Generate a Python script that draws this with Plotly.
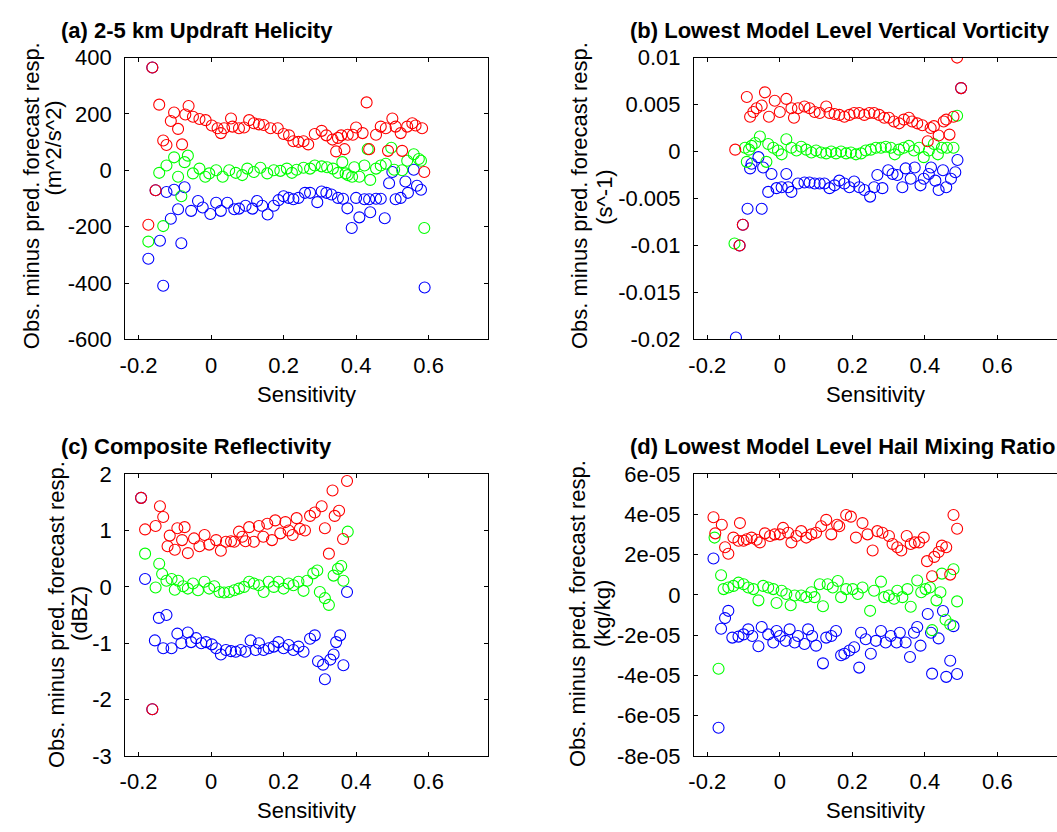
import plotly.graph_objects as go

W, H = 1057, 832
FONT = "Liberation Sans, Arial, Helvetica, sans-serif"

# ---------------- (a) 2-5 km updraft helicity (m^2/s^2) ----------------
uh_red_x = [-0.173, -0.162, -0.153, -0.143, -0.132, -0.123, -0.111, -0.102, -0.091, -0.080,
            -0.071, -0.062, -0.050, -0.032, -0.015, 0.002, 0.018, 0.027, 0.036, 0.055,
            0.059, 0.077, 0.091, 0.105, 0.118, 0.132, 0.145, 0.164, 0.184, 0.200,
            0.215, 0.227, 0.241, 0.255, 0.268, 0.286, 0.305, 0.318, 0.335, 0.345,
            0.350, 0.359, 0.368, 0.377, 0.391, 0.400, 0.418, 0.429, 0.436, 0.455,
            0.468, 0.482, 0.488, 0.500, 0.509, 0.523, 0.527, 0.541, 0.555, 0.564,
            0.582, 0.588]
uh_red_y = [-193, 365, -71, 233, 106, 90, 175, 205, 147, 92,
            198, 228, 190, 182, 178, 159, 149, 132, 149, 184,
            155, 149, 152, 178, 167, 163, 161, 149, 149, 129,
            124, 103, 101, 103, 92, 129, 140, 124, 109, 67,
            115, 124, 75, 126, 126, 152, 132, 241, 75, 126,
            155, 149, 69, 184, 155, 132, 69, 155, 167, 159,
            149, -6]

uh_green_x = [-0.173, -0.143, -0.132, -0.123, -0.102, -0.091, -0.082, -0.073, -0.064, -0.050,
              -0.032, -0.016, -0.005, 0.014, 0.032, 0.050, 0.068, 0.086, 0.100, 0.118,
              0.136, 0.155, 0.173, 0.191, 0.209, 0.223, 0.236, 0.255, 0.273, 0.286,
              0.305, 0.320, 0.336, 0.350, 0.362, 0.371, 0.377, 0.389, 0.395, 0.409,
              0.423, 0.432, 0.439, 0.455, 0.468, 0.482, 0.497, 0.505, 0.527, 0.541,
              0.559, 0.573, 0.579, 0.588]
uh_green_y = [-253, -9, -198, 17, 46, -23, -92, 29, 52, -11,
              6, -23, -11, 0, -23, 0, -9, -17, 6, -6,
              9, -11, 0, -2, 6, -9, 2, 9, 6, 17,
              14, 11, 6, -9, 29, -11, -17, -23, 11, -23,
              17, 75, -34, 6, 17, 23, 80, 2, 0, 34,
              57, 40, 34, -205]

uh_blue_x = [-0.173, -0.162, -0.153, -0.141, -0.132, -0.123, -0.111, -0.102, -0.091, -0.082,
             -0.073, -0.055, -0.036, -0.023, -0.002, 0.014, 0.027, 0.045, 0.064, 0.077,
             0.095, 0.114, 0.127, 0.141, 0.156, 0.173, 0.186, 0.200, 0.214, 0.227,
             0.241, 0.259, 0.273, 0.293, 0.305, 0.318, 0.332, 0.350, 0.364, 0.376,
             0.388, 0.400, 0.409, 0.423, 0.436, 0.439, 0.455, 0.468, 0.479, 0.491,
             0.500, 0.509, 0.523, 0.536, 0.543, 0.559, 0.568, 0.579, 0.589]
uh_blue_y = [-314, 365, -71, -250, -410, -77, -172, -69, -138, -259,
             -60, -144, -109, -132, -155, -115, -144, -115, -138, -136,
             -126, -136, -109, -126, -157, -126, -106, -92, -98, -103,
             -98, -80, -80, -113, -75, -80, -86, -98, -101, -135,
             -205, -98, -167, -103, -103, -149, -101, -101, -170, -46,
             -6, -103, -98, -40, -80, 2, -55, -69, -416]

# ---------------- (b) lowest model level vertical vorticity (s^-1) ----------------
vort_red_x = [-0.123, -0.111, -0.102, -0.091, -0.082, -0.073, -0.064, -0.050, -0.041, -0.030,
              -0.014, 0.000, 0.018, 0.032, 0.039, 0.050, 0.068, 0.082, 0.096, 0.110,
              0.128, 0.137, 0.151, 0.164, 0.178, 0.192, 0.205, 0.219, 0.233, 0.247,
              0.260, 0.274, 0.288, 0.301, 0.315, 0.329, 0.342, 0.356, 0.365, 0.379,
              0.393, 0.408, 0.416, 0.425, 0.438, 0.452, 0.459, 0.468, 0.479, 0.489, 0.500]
vort_red_y = [0.0002, -0.0100, -0.0078, 0.0058, 0.0037, 0.0042, 0.0046, 0.0049, 0.0063, 0.0037,
              0.0054, 0.0042, 0.0056, 0.0046, 0.0036, 0.0046, 0.0048, 0.0046, 0.0042, 0.0041,
              0.0048, 0.0041, 0.0040, 0.0039, 0.0037, 0.0039, 0.0041, 0.0041, 0.0039, 0.0041,
              0.0041, 0.0039, 0.0036, 0.0036, 0.0032, 0.0030, 0.0034, 0.0036, 0.0032, 0.0030,
              0.0028, 0.0011, 0.0025, 0.0027, 0.0017, 0.0032, 0.0034, 0.0018, 0.0037, 0.0100, 0.00675]

vort_green_x = [-0.125, -0.096, -0.091, -0.085, -0.078, -0.068, -0.055, -0.037, -0.032, -0.018,
                -0.005, 0.005, 0.018, 0.032, 0.046, 0.059, 0.073, 0.087, 0.100, 0.114,
                0.128, 0.142, 0.155, 0.169, 0.183, 0.196, 0.210, 0.224, 0.237, 0.251,
                0.265, 0.279, 0.292, 0.306, 0.317, 0.329, 0.342, 0.356, 0.370, 0.384,
                0.397, 0.411, 0.425, 0.436, 0.447, 0.461, 0.479, 0.489]
vort_green_y = [-0.0098, 0.0004, -0.0011, 0.0002, 0.0006, 0.0009, 0.0016, -0.0011, 0.0008, 0.0004,
                0.0001, -0.0003, 0.0013, 0.0004, 0.0001, 0.0005, 0.0002, -0.0001, 0.0001, -0.0001,
                -0.0002, 0.0000, -0.0002, 0.0000, -0.0002, -0.0001, -0.0003, -0.0002, 0.0001, 0.0002,
                0.0004, 0.0004, 0.0005, 0.0004, -0.0003, 0.0002, 0.0004, 0.0006, 0.0001, 0.0004,
                -0.0006, 0.0001, 0.0008, -0.0003, 0.0004, 0.0004, 0.0004, 0.0038]

vort_blue_x = [-0.121, -0.111, -0.102, -0.089, -0.082, -0.078, -0.059, -0.050, -0.046, -0.032,
               -0.023, -0.009, 0.005, 0.018, 0.023, 0.032, 0.050, 0.068, 0.082, 0.096,
               0.110, 0.123, 0.137, 0.151, 0.164, 0.178, 0.192, 0.205, 0.219, 0.233,
               0.249, 0.260, 0.269, 0.283, 0.299, 0.311, 0.324, 0.338, 0.347, 0.361,
               0.372, 0.388, 0.397, 0.411, 0.417, 0.429, 0.438, 0.450, 0.459, 0.472,
               0.484, 0.490, 0.500]
vort_blue_y = [-0.0198, -0.0100, -0.0078, -0.0061, -0.0018, -0.0013, -0.0006, -0.0061, -0.0017, -0.0043,
               -0.0024, -0.0039, -0.0038, -0.0024, -0.0038, -0.0043, -0.0034, -0.0033, -0.0033, -0.0034,
               -0.0034, -0.0034, -0.0039, -0.0036, -0.0031, -0.0034, -0.0038, -0.0032, -0.0038, -0.0041,
               -0.0048, -0.0038, -0.0025, -0.0039, -0.0020, -0.0024, -0.0025, -0.0038, -0.0018, -0.0029,
               -0.0017, -0.0036, -0.0029, -0.0024, -0.0017, -0.0031, -0.0041, -0.0020, -0.0038, -0.0029,
               -0.0022, -0.0009, 0.00675]

# ---------------- (c) composite reflectivity (dBZ) ----------------
refl_red_x = [-0.193, -0.182, -0.162, -0.153, -0.141, -0.132, -0.120, -0.114, -0.100, -0.093,
              -0.080, -0.073, -0.064, -0.047, -0.032, -0.018, -0.005, 0.014, 0.027, 0.041,
              0.055, 0.064, 0.077, 0.086, 0.095, 0.105, 0.118, 0.132, 0.144, 0.155,
              0.168, 0.177, 0.191, 0.205, 0.214, 0.225, 0.236, 0.245, 0.259, 0.273,
              0.286, 0.305, 0.314, 0.325, 0.335, 0.341, 0.353, 0.364, 0.375]
refl_red_y = [1.58, 1.02, -2.17, 1.08, 1.43, 1.24, 0.72, 0.91, 0.66, 1.04,
              0.83, 1.06, 0.60, 0.86, 0.72, 0.92, 0.75, 0.83, 0.64, 0.80,
              0.81, 0.80, 0.98, 0.89, 0.81, 1.06, 0.80, 1.08, 0.89, 1.12,
              0.83, 1.18, 0.95, 1.15, 1.00, 0.92, 1.22, 1.03, 1.00, 1.26,
              1.32, 1.43, 1.04, 0.59, 1.71, 1.26, 1.35, 0.85, 1.88]

refl_green_x = [-0.182, -0.153, -0.143, -0.135, -0.123, -0.109, -0.100, -0.091, -0.077, -0.064,
                -0.050, -0.036, -0.018, -0.005, 0.009, 0.023, 0.036, 0.050, 0.064, 0.077,
                0.091, 0.105, 0.118, 0.132, 0.145, 0.159, 0.173, 0.186, 0.200, 0.214,
                0.227, 0.241, 0.255, 0.265, 0.282, 0.293, 0.300, 0.314, 0.325, 0.338,
                0.350, 0.359, 0.365, 0.377]
refl_green_y = [0.59, -0.01, 0.41, 0.23, 0.11, 0.14, -0.05, 0.11, 0.01, -0.03,
                0.06, -0.06, 0.09, -0.03, 0.01, -0.09, -0.10, -0.09, -0.06, -0.03,
                0.00, 0.09, 0.06, 0.03, -0.09, 0.09, 0.00, 0.09, -0.03, 0.06,
                0.03, 0.09, -0.07, 0.11, 0.24, 0.29, -0.09, -0.20, -0.32, 0.20,
                0.32, 0.37, 0.11, 0.98]

refl_blue_x = [-0.193, -0.182, -0.162, -0.155, -0.144, -0.132, -0.123, -0.109, -0.093, -0.082,
               -0.064, -0.055, -0.041, -0.027, -0.014, 0.002, 0.014, 0.027, 0.041, 0.055,
               0.068, 0.082, 0.095, 0.109, 0.123, 0.132, 0.145, 0.159, 0.173, 0.186,
               0.200, 0.214, 0.227, 0.241, 0.255, 0.273, 0.286, 0.295, 0.309, 0.314,
               0.329, 0.338, 0.345, 0.356, 0.365, 0.375]
refl_blue_y = [1.58, 0.14, -2.17, -0.95, -0.55, -1.09, -0.50, -1.09, -0.83, -1.00,
               -0.81, -0.98, -0.91, -1.00, -0.98, -1.02, -1.09, -1.20, -1.12, -1.14,
               -1.15, -1.12, -1.15, -0.95, -1.12, -1.00, -1.12, -1.09, -1.06, -0.98,
               -1.09, -1.03, -1.12, -1.06, -1.15, -0.92, -0.86, -1.32, -1.38, -1.64,
               -1.29, -1.20, -0.98, -0.86, -1.39, -0.09]

# ---------------- (d) lowest model level hail mixing ratio (kg/kg) ----------------
hail_red_x = [-0.183, -0.178, -0.160, -0.151, -0.142, -0.128, -0.114, -0.110, -0.100, -0.091,
              -0.078, -0.064, -0.055, -0.041, -0.027, -0.014, 0.000, 0.009, 0.023, 0.032,
              0.046, 0.059, 0.073, 0.087, 0.100, 0.114, 0.128, 0.142, 0.158, 0.164,
              0.183, 0.196, 0.210, 0.228, 0.242, 0.256, 0.269, 0.283, 0.301, 0.311,
              0.324, 0.335, 0.350, 0.361, 0.372, 0.384, 0.397, 0.406, 0.420, 0.426,
              0.438, 0.447, 0.459, 0.470, 0.479, 0.489]
hail_red_y = [3.86e-05, 3.06e-05, 3.49e-05, 2.37e-05, 2.05e-05, 2.85e-05, 2.69e-05, 3.57e-05, 2.69e-05, 2.77e-05,
              2.85e-05, 2.74e-05, 2.61e-05, 3.06e-05, 2.93e-05, 3.01e-05, 3.01e-05, 3.33e-05, 3.09e-05, 2.61e-05,
              2.93e-05, 3.17e-05, 2.85e-05, 3.01e-05, 3.09e-05, 3.41e-05, 3.73e-05, 3.01e-05, 3.49e-05, 3.41e-05,
              3.97e-05, 3.89e-05, 2.85e-05, 3.57e-05, 3.01e-05, 2.21e-05, 3.17e-05, 3.09e-05, 2.93e-05, 2.53e-05,
              2.37e-05, 2.21e-05, 2.93e-05, 2.53e-05, 2.61e-05, 2.61e-05, 2.85e-05, 1.68e-05, 0.93e-05, 1.89e-05,
              2.13e-05, 2.45e-05, 2.37e-05, 1.01e-05, 3.97e-05, 3.29e-05]

hail_green_x = [-0.180, -0.169, -0.162, -0.155, -0.142, -0.128, -0.114, -0.100, -0.087, -0.073,
                -0.059, -0.046, -0.032, -0.018, -0.009, 0.005, 0.018, 0.030, 0.041, 0.059,
                0.073, 0.087, 0.096, 0.110, 0.119, 0.132, 0.146, 0.160, 0.169, 0.183,
                0.201, 0.215, 0.228, 0.249, 0.260, 0.279, 0.288, 0.301, 0.315, 0.324,
                0.338, 0.352, 0.361, 0.379, 0.390, 0.402, 0.414, 0.420, 0.432, 0.443,
                0.447, 0.457, 0.470, 0.479, 0.489]
hail_green_y = [2.85e-05, -3.67e-05, 0.98e-05, 0.29e-05, 0.37e-05, 0.45e-05, 0.61e-05, 0.53e-05, 0.37e-05, 0.29e-05,
                -0.27e-05, 0.45e-05, 0.37e-05, 0.29e-05, -0.40e-05, 0.21e-05, 0.05e-05, -0.51e-05, -0.03e-05, -0.03e-05,
                -0.11e-05, 0.13e-05, -0.11e-05, 0.53e-05, -0.56e-05, 0.53e-05, 0.37e-05, 0.69e-05, -0.11e-05, 0.29e-05,
                0.29e-05, 0.05e-05, 0.37e-05, -0.79e-05, 0.21e-05, 0.66e-05, -0.11e-05, -0.03e-05, -0.19e-05, 0.21e-05,
                -0.11e-05, 0.29e-05, -0.59e-05, 0.72e-05, 0.13e-05, 0.29e-05, 0.37e-05, -1.75e-05, -0.27e-05, 0.13e-05,
                1.06e-05, -1.23e-05, -1.47e-05, 1.28e-05, -0.32e-05]

hail_blue_x = [-0.183, -0.169, -0.162, -0.151, -0.142, -0.131, -0.114, -0.100, -0.087, -0.076,
               -0.059, -0.050, -0.032, -0.018, -0.009, 0.000, 0.016, 0.027, 0.041, 0.050,
               0.068, 0.078, 0.089, 0.100, 0.119, 0.128, 0.142, 0.155, 0.169, 0.178,
               0.192, 0.205, 0.219, 0.224, 0.237, 0.251, 0.265, 0.279, 0.292, 0.306,
               0.322, 0.331, 0.347, 0.359, 0.370, 0.379, 0.388, 0.408, 0.417, 0.420,
               0.438, 0.450, 0.459, 0.470, 0.479, 0.489]
hail_blue_y = [1.81e-05, -6.60e-05, -1.68e-05, -1.15e-05, -0.79e-05, -2.12e-05, -2.07e-05, -1.96e-05, -1.71e-05, -2.04e-05,
               -2.55e-05, -1.59e-05, -1.96e-05, -2.36e-05, -1.79e-05, -2.04e-05, -2.28e-05, -1.71e-05, -2.36e-05, -2.04e-05,
               -2.44e-05, -1.71e-05, -2.04e-05, -2.52e-05, -3.40e-05, -2.12e-05, -2.04e-05, -1.79e-05, -3.00e-05, -2.92e-05,
               -2.76e-05, -2.60e-05, -3.61e-05, -1.88e-05, -2.20e-05, -2.92e-05, -2.28e-05, -1.79e-05, -2.36e-05, -2.04e-05,
               -2.36e-05, -1.88e-05, -2.36e-05, -3.08e-05, -1.88e-05, -1.59e-05, -2.52e-05, -0.95e-05, -1.88e-05, -3.91e-05,
               -2.16e-05, -0.80e-05, -4.07e-05, -3.27e-05, -1.55e-05, -3.93e-05]

# ---------------- axis tick settings ----------------
x_ticks = [-0.2, 0, 0.2, 0.4, 0.6]
x_ticktext = ["-0.2", "0", "0.2", "0.4", "0.6"]
x_range = [-0.2365, 0.7645]

uh_ticks = [-600, -400, -200, 0, 200, 400]
uh_ticktext = ["-600", "-400", "-200", "0", "200", "400"]
vort_ticks = [-0.02, -0.015, -0.01, -0.005, 0, 0.005, 0.01]
vort_ticktext = ["-0.02", "-0.015", "-0.01", "-0.005", "0", "0.005", "0.01"]
refl_ticks = [-3, -2, -1, 0, 1, 2]
refl_ticktext = ["-3", "-2", "-1", "0", "1", "2"]
hail_ticks = [-8e-05, -6e-05, -4e-05, -2e-05, 0, 2e-05, 4e-05, 6e-05]
hail_ticktext = ["-8e-05", "-6e-05", "-4e-05", "-2e-05", "0", "2e-05", "4e-05", "6e-05"]

panels = [
    dict(title="(a) 2-5 km Updraft Helicity", unit="(m^2/s^2)",
         series=[(uh_blue_x, uh_blue_y), (uh_green_x, uh_green_y), (uh_red_x, uh_red_y)],
         yticks=uh_ticks, yticktext=uh_ticktext, yrange=[-600, 400],
         box=(120, 485, 47, 337.5), title_xy=(53, 19),
         lab1=(25, 189), lab2=(48, 140), xlab=(302.5, 394)),
    dict(title="(b) Lowest Model Level Vertical Vorticity", unit="(s^-1)",
         series=[(vort_blue_x, vort_blue_y), (vort_green_x, vort_green_y), (vort_red_x, vort_red_y)],
         yticks=vort_ticks, yticktext=vort_ticktext, yrange=[-0.02, 0.01],
         box=(692, 1057, 47, 337.5), title_xy=(626, 19),
         lab1=(577, 189), lab2=(602, 191), xlab=(874.5, 394)),
    dict(title="(c) Composite Reflectivity", unit="(dBZ)",
         series=[(refl_blue_x, refl_blue_y), (refl_green_x, refl_green_y), (refl_red_x, refl_red_y)],
         yticks=refl_ticks, yticktext=refl_ticktext, yrange=[-3, 2],
         box=(120, 485, 476.5, 767), title_xy=(53, 448),
         lab1=(51, 621), lab2=(74, 620), xlab=(302.5, 823)),
    dict(title="(d) Lowest Model Level Hail Mixing Ratio", unit="(kg/kg)",
         series=[(hail_blue_x, hail_blue_y), (hail_green_x, hail_green_y), (hail_red_x, hail_red_y)],
         yticks=hail_ticks, yticktext=hail_ticktext, yrange=[-8e-05, 6e-05],
         box=(692, 1057, 476.5, 767), title_xy=(626, 448),
         lab1=(575, 620), lab2=(600, 620), xlab=(874.5, 823)),
]
colors = ["#0000ff", "#00ff00", "#ff0000"]


def fx(px):
    return px / W


def fy(py):
    return 1 - py / H


fig = go.Figure()
annotations = []
layout = {}
tick_font = dict(family=FONT, size=22, color="black")
label_font = dict(family=FONT, size=22, color="black")

for i, p in enumerate(panels):
    n = i + 1
    xa = "x" if n == 1 else f"x{n}"
    ya = "y" if n == 1 else f"y{n}"
    for (sx, sy), c in zip(p["series"], colors):
        fig.add_trace(go.Scatter(
            x=sx, y=sy, xaxis=xa, yaxis=ya, mode="markers", showlegend=False,
            marker=dict(symbol="circle-open", size=11, color=c, line=dict(width=1.1, color=c)),
            hoverinfo="skip"))
    x0, x1, y0, y1 = p["box"]
    right_edge = x1 >= W
    layout["xaxis" if n == 1 else f"xaxis{n}"] = dict(
        domain=[fx(x0), min(fx(x1), 1.0)], anchor=ya, range=x_range,
        tickvals=x_ticks, ticktext=x_ticktext, ticks="inside", ticklen=4,
        tickcolor="black", tickwidth=1, showline=True, linecolor="black", linewidth=1.2,
        mirror="ticks", showgrid=False, zeroline=False, tickfont=tick_font,
        ticklabelstandoff=6)
    layout["yaxis" if n == 1 else f"yaxis{n}"] = dict(
        domain=[fy(y1), fy(y0)], anchor=xa, range=p["yrange"],
        tickvals=p["yticks"], ticktext=p["yticktext"], ticks="inside", ticklen=4,
        tickcolor="black", tickwidth=1, showline=True, linecolor="black", linewidth=1.2,
        mirror=False if right_edge else "ticks", showgrid=False, zeroline=False,
        tickfont=tick_font, ticklabelstandoff=8)

    tx, ty = p["title_xy"]
    annotations.append(dict(text="<b>" + p["title"] + "</b>", x=fx(tx), y=fy(ty),
                            xref="paper", yref="paper", xanchor="left", yanchor="middle",
                            showarrow=False, font=label_font))
    lx, ly = p["lab1"]
    annotations.append(dict(text="Obs. minus pred. forecast resp.", x=fx(lx), y=fy(ly),
                            xref="paper", yref="paper", xanchor="center", yanchor="middle",
                            textangle=-90, showarrow=False, font=label_font))
    lx, ly = p["lab2"]
    annotations.append(dict(text=p["unit"], x=fx(lx), y=fy(ly),
                            xref="paper", yref="paper", xanchor="center", yanchor="middle",
                            textangle=-90, showarrow=False, font=label_font))
    lx, ly = p["xlab"]
    annotations.append(dict(text="Sensitivity", x=fx(lx), y=fy(ly),
                            xref="paper", yref="paper", xanchor="center", yanchor="middle",
                            showarrow=False, font=label_font))

fig.update_layout(
    width=W, height=H, margin=dict(l=0, r=0, t=0, b=0),
    paper_bgcolor="white", plot_bgcolor="white",
    annotations=annotations, **layout)

# page body without default margins or scrollbars so the figure sits flush
fig.write_html("out.html",
               post_script="document.body.style.margin='0';"
                           "document.body.style.overflow='hidden';")
